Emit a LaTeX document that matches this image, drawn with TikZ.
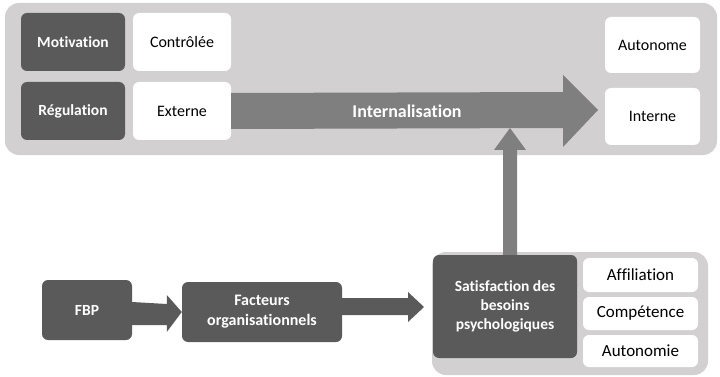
\documentclass[tikz,border=0pt]{standalone}
\usepackage{fontspec}
\setmainfont[Ligatures=NoCommon]{Carlito}
\usetikzlibrary{calc}
\definecolor{panel}{HTML}{D2D0D0}
\definecolor{darkbox}{HTML}{5A5A5A}
\definecolor{midarrow}{HTML}{7F7F7F}
\tikzset{
  darkb/.style={fill=darkbox, rounded corners=6pt, text=white, font=\bfseries\fontsize{15.5}{19}\selectfont, align=center, inner sep=0pt},
  whiteb/.style={fill=white, rounded corners=6pt, text=black, font=\fontsize{16}{19}\selectfont, align=center, inner sep=0pt},
  rightb/.style={whiteb, minimum width=115pt, font=\fontsize{17}{19}\selectfont},
  panelb/.style={fill=panel, rounded corners=14pt}
}
\begin{document}
\begin{tikzpicture}[x=1pt,y=-1pt]
\useasboundingbox (0,0) rectangle (720,377);
% panels
\fill[panelb] (5,3) rectangle (717,155);
\fill[panelb] (432,252) rectangle (708,375);
% top row boxes
\node[darkb, minimum width=104pt, minimum height=58pt] (mot) at (73,42) {Motivation};
\node[darkb, minimum width=104pt, minimum height=58pt] (reg) at (73,111) {Régulation};
\node[whiteb, minimum width=98pt, minimum height=58pt] (ctl) at (182,42) {Contrôlée};
\node[whiteb, minimum width=98pt, minimum height=58pt] (ext) at (182,111) {Externe};
\node[whiteb, minimum width=95pt, minimum height=56pt] (aut) at (652.5,45) {Autonome};
\node[whiteb, minimum width=95pt, minimum height=57pt] (int) at (652.5,116.5) {Interne};
% internalisation arrow
\coordinate (itip) at (598,110);
\fill[midarrow] ($(ext.east)+(0,-18)$) -- ($(itip)+(-35,-18)$) -- ($(itip)+(-35,-35)$) -- (itip)
  -- ($(itip)+(-35,37)$) -- ($(itip)+(-35,18)$) -- ($(ext.east)+(0,18)$) -- cycle;
\node[text=white, font=\bfseries\fontsize{18}{20}\selectfont, inner sep=0pt] (lab) at (407,111) {Internalisation};
% bottom boxes
\node[darkb, minimum width=90pt, minimum height=60pt] (fbp) at (87,310) {FBP};
\node[darkb, minimum width=160pt, minimum height=60pt, font=\bfseries\fontsize{16}{20}\selectfont] (fac) at (262,312) {Facteurs\\organisationnels};
\node[darkb, minimum width=144pt, minimum height=103pt] (sat) at (505,306.5) {Satisfaction des\\besoins\\psychologiques};
\node[rightb, minimum height=34pt] (aff) at (640.5,275) {Affiliation};
\node[rightb, minimum height=33pt] (com) at (640.5,313.5) {Compétence};
\node[rightb, minimum height=32pt] (auto) at (640.5,351) {Autonomie};
% FBP -> Facteurs
\fill[darkbox] ($(fbp.east)+(0,-8)$) -- ($(fac.west)+(-15,-8)$) -- ($(fac.west)+(-15,-17)$) -- (fac.west)
  -- ($(fac.west)+(-15,20)$) -- ($(fac.west)+(-15,13)$) -- ($(fbp.east)+(0,15)$) -- cycle;
% Facteurs -> Satisfaction
\coordinate (stip) at (424,307);
\fill[darkbox] ($(fac.east)+(0,-14)$) -- ($(stip)+(-16,-9)$) -- ($(stip)+(-16,-15)$) -- (stip)
  -- ($(stip)+(-16,15)$) -- ($(stip)+(-16,8)$) -- ($(fac.east)+(0,3)$) -- cycle;
% Satisfaction -> Internalisation (vertical)
\coordinate (vtip) at (510,128);
\fill[midarrow] ($(sat.north -| vtip)+(-7,0)$) -- ($(vtip)+(-7,22)$) -- ($(vtip)+(-16,22)$) -- (vtip)
  -- ($(vtip)+(16,22)$) -- ($(vtip)+(7,22)$) -- ($(sat.north -| vtip)+(7,0)$) -- cycle;
\end{tikzpicture}
\end{document}
